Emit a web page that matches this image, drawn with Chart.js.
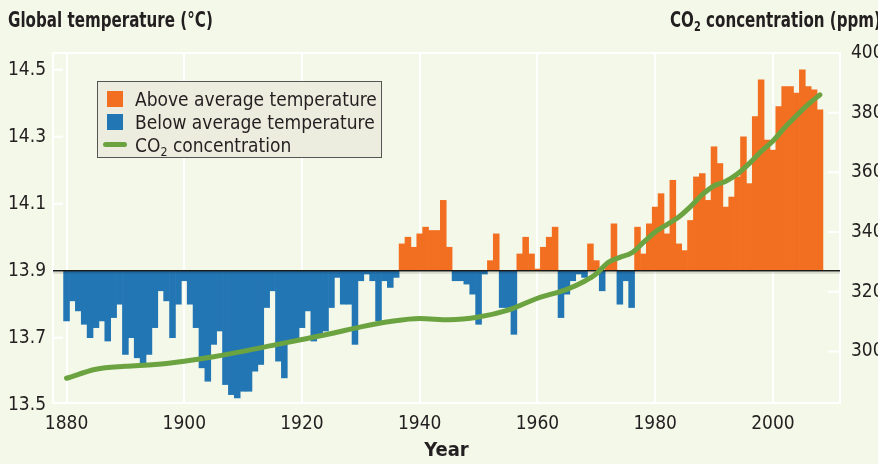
<!DOCTYPE html>
<html>
<head>
<meta charset="utf-8">
<script src="https://cdn.jsdelivr.net/npm/chart.js@4/dist/chart.umd.min.js"></script>
<style>
    body { margin: 0; background: #f4f8e8; }
    #wrap { position: relative; width: 878px; height: 464px; overflow: hidden; background: #f4f8e8;
            font-family: 'Liberation Sans Narrow', 'DejaVu Sans Condensed', sans-serif; color: #231f20; }
    #chart { position: absolute; left: 0; top: 0; }
    .axis-title { position: absolute; top: 10px; font-size: 21px; font-weight: bold; line-height: 1; white-space: nowrap;
                  transform: scaleX(0.8); transform-origin: 0 0; }
    sub { font-size: 0.65em; line-height: 0; vertical-align: -0.3em; }
    #legend { position: absolute; left: 97px; top: 81px; width: 285px; height: 77px; box-sizing: border-box;
              background: #ecedde; border: 1px solid #555; }
    .legend-item { position: absolute; left: 0; height: 16px; display: flex; align-items: center;
                   font-size: 19px; white-space: nowrap; }
    .legend-color { position: absolute; left: 9px; top: 0; width: 16px; height: 16px; }
    .legend-line { position: absolute; left: 5px; top: 5px; width: 24px; height: 5px; border-radius: 3px; }
    .legend-label { position: absolute; left: 37px; top: -2px; line-height: 20px; }
</style>
</head>
<body>
<div id="wrap">
    <canvas id="chart" width="878" height="464"></canvas>
    <div class="axis-title" style="left:8px">Global temperature (°C)</div>
    <div class="axis-title" style="left:670px">CO<sub>2</sub> concentration (ppm)</div>
    <div id="legend"></div>
</div>
<script>
// years 1880 - 2008
const years = [
    1880, 1881, 1882, 1883, 1884, 1885, 1886, 1887, 1888, 1889,
    1890, 1891, 1892, 1893, 1894, 1895, 1896, 1897, 1898, 1899,
    1900, 1901, 1902, 1903, 1904, 1905, 1906, 1907, 1908, 1909,
    1910, 1911, 1912, 1913, 1914, 1915, 1916, 1917, 1918, 1919,
    1920, 1921, 1922, 1923, 1924, 1925, 1926, 1927, 1928, 1929,
    1930, 1931, 1932, 1933, 1934, 1935, 1936, 1937, 1938, 1939,
    1940, 1941, 1942, 1943, 1944, 1945, 1946, 1947, 1948, 1949,
    1950, 1951, 1952, 1953, 1954, 1955, 1956, 1957, 1958, 1959,
    1960, 1961, 1962, 1963, 1964, 1965, 1966, 1967, 1968, 1969,
    1970, 1971, 1972, 1973, 1974, 1975, 1976, 1977, 1978, 1979,
    1980, 1981, 1982, 1983, 1984, 1985, 1986, 1987, 1988, 1989,
    1990, 1991, 1992, 1993, 1994, 1995, 1996, 1997, 1998, 1999,
    2000, 2001, 2002, 2003, 2004, 2005, 2006, 2007, 2008
];

// global temperature (°C), same order as years
const temps = [
    13.75, 13.81, 13.78, 13.74, 13.70, 13.73, 13.75, 13.69, 13.76, 13.80,
    13.65, 13.70, 13.64, 13.62, 13.65, 13.73, 13.84, 13.81, 13.70, 13.80,
    13.87, 13.80, 13.73, 13.61, 13.57, 13.68, 13.72, 13.56, 13.53, 13.52,
    13.54, 13.54, 13.60, 13.62, 13.79, 13.84, 13.63, 13.58, 13.69, 13.69,
    13.73, 13.78, 13.69, 13.71, 13.72, 13.79, 13.88, 13.80, 13.80, 13.68,
    13.87, 13.89, 13.87, 13.75, 13.87, 13.85, 13.88, 13.98, 14.00, 13.97,
    14.01, 14.03, 14.02, 14.02, 14.11, 13.97, 13.87, 13.87, 13.86, 13.83,
    13.74, 13.89, 13.93, 14.01, 13.79, 13.79, 13.71, 13.95, 14.00, 13.95,
    13.905, 13.97, 14.00, 14.03, 13.76, 13.83, 13.87, 13.89, 13.88, 13.98,
    13.93, 13.84, 13.92, 14.04, 13.80, 13.87, 13.79, 14.03, 13.95, 14.04,
    14.09, 14.13, 14.01, 14.17, 13.98, 13.96, 14.05, 14.18, 14.19, 14.11,
    14.27, 14.22, 14.09, 14.12, 14.18, 14.30, 14.16, 14.36, 14.47, 14.29,
    14.26, 14.39, 14.45, 14.45, 14.43, 14.50, 14.45, 14.44, 14.38
];

// CO2 concentration (ppm)
const co2Years = [
    1880, 1885, 1890, 1895, 1900, 1905, 1910, 1915, 1920, 1925,
    1930, 1935, 1940, 1945, 1950, 1955, 1960, 1965, 1968, 1970,
    1972, 1974, 1976, 1978, 1980, 1982, 1984, 1986, 1988, 1990,
    1992, 1994, 1996, 1998, 2000, 2002, 2004, 2006, 2008
];
const co2Values = [
    291.0, 294.0, 295.0, 295.6, 296.7, 298.2, 300.0, 302.0, 304.0, 306.0,
    308.2, 310.0, 311.0, 310.6, 311.5, 313.8, 317.8, 320.8, 323.5, 326.0,
    329.8, 331.5, 333.0, 336.5, 340.0, 342.5, 345.0, 348.5, 352.5, 355.5,
    357.0, 359.5, 363.0, 367.0, 370.5, 375.0, 379.0, 382.8, 386.0
];

const baseline = 13.9;
const yearTicks = [1880, 1900, 1920, 1940, 1960, 1980, 2000];
const tempTicks = [13.5, 13.7, 13.9, 14.1, 14.3, 14.5];
const co2Ticks = [300, 320, 340, 360, 380, 400];

const colors = {
    above: '#f26f21',
    below: '#2376b4',
    co2: '#6ca341',
    text: '#231f20'
};

const legendItems = [
    { html: 'Above average temperature', color: colors.above, type: 'box' },
    { html: 'Below average temperature', color: colors.below, type: 'box' },
    { html: 'CO<sub>2</sub> concentration', color: colors.co2, type: 'line' }
];

// legend banao
const legend = document.getElementById('legend');
legendItems.forEach((item, i) => {
    const row = document.createElement('div');
    row.className = 'legend-item';
    row.style.top = (9 + i * 23) + 'px';
    row.innerHTML = `
        <span class="${item.type === 'box' ? 'legend-color' : 'legend-line'}" style="background-color: ${item.color}"></span>
        <span class="legend-label">${item.html}</span>
    `;
    legend.appendChild(row);
});

// white frame, inner ticks, aur 13.9 wali black line
const framePlugin = {
    id: 'frame',
    beforeDatasetsDraw(chart) {
        const { ctx, chartArea: a, scales } = chart;
        ctx.save();
        ctx.strokeStyle = '#ffffff';
        ctx.lineWidth = 2;
        ctx.strokeRect(a.left, a.top, a.right - a.left, a.bottom - a.top);
        ctx.beginPath();
        tempTicks.forEach(v => {
            const py = scales.y.getPixelForValue(v);
            if (py > a.top + 2 && py < a.bottom - 2) {
                ctx.moveTo(a.left, py);
                ctx.lineTo(a.left + 10, py);
            }
        });
        co2Ticks.forEach(v => {
            const py = scales.y2.getPixelForValue(v);
            if (py > a.top + 2 && py < a.bottom - 2) {
                ctx.moveTo(a.right - 12, py);
                ctx.lineTo(a.right, py);
            }
        });
        ctx.stroke();
        ctx.restore();
    },
    afterDatasetDraw(chart, args) {
        if (args.index !== 0) return;
        const { ctx, chartArea: a } = chart;
        const py = chart.scales.y.getPixelForValue(baseline);
        ctx.save();
        ctx.strokeStyle = 'rgba(0,0,0,0.12)';
        ctx.lineWidth = 2;
        ctx.beginPath();
        ctx.moveTo(a.left, py + 2);
        ctx.lineTo(a.right, py + 2);
        ctx.stroke();
        ctx.strokeStyle = '#1a1a1a';
        ctx.lineWidth = 1.5;
        ctx.beginPath();
        ctx.moveTo(a.left, py);
        ctx.lineTo(a.right, py);
        ctx.stroke();
        ctx.restore();
    }
};

Chart.defaults.font.family = "'Liberation Sans Narrow', 'DejaVu Sans Condensed', sans-serif";
Chart.defaults.color = colors.text;

new Chart(document.getElementById('chart'), {
    type: 'bar',
    data: {
        datasets: [
            {
                type: 'bar',
                label: 'Temperature',
                yAxisID: 'y',
                data: years.map((yr, i) => ({ x: yr, y: [baseline, temps[i]] })),
                backgroundColor: temps.map(t => t >= baseline ? colors.above : colors.below),
                borderWidth: 0,
                barPercentage: 1,
                categoryPercentage: 1,
                order: 2
            },
            {
                type: 'line',
                label: 'CO2 concentration',
                yAxisID: 'y2',
                data: co2Years.map((yr, i) => ({ x: yr, y: co2Values[i] })),
                borderColor: colors.co2,
                borderWidth: 5,
                borderCapStyle: 'round',
                pointRadius: 0,
                tension: 0.4,
                cubicInterpolationMode: 'monotone',
                order: 1
            }
        ]
    },
    options: {
        responsive: false,
        animation: false,
        layout: { padding: { left: 8, top: 53, right: 0, bottom: 0 } },
        plugins: {
            legend: { display: false },
            tooltip: { enabled: false }
        },
        scales: {
            x: {
                type: 'linear',
                min: 1877.7,
                max: 2011.4,
                offset: false,
                afterBuildTicks: s => { s.ticks = yearTicks.map(v => ({ value: v })); },
                afterFit: s => { s.height = 61; },
                grid: { color: '#ffffff', lineWidth: 2, drawTicks: false, offset: false },
                border: { display: false },
                ticks: { padding: 10, font: { size: 19 }, color: colors.text, callback: v => String(v) },
                title: {
                    display: true, text: 'Year', color: colors.text,
                    font: { size: 20, weight: 'bold' }, padding: { top: 0, bottom: 1 }
                }
            },
            y: {
                position: 'left',
                min: 13.505,
                max: 14.55,
                afterBuildTicks: s => { s.ticks = tempTicks.map(v => ({ value: v })); },
                afterFit: s => { s.width = 45; },
                grid: { display: false, drawTicks: false },
                border: { display: false },
                ticks: { crossAlign: 'far', padding: 0, font: { size: 19 }, color: colors.text, callback: v => v.toFixed(1) }
            },
            y2: {
                position: 'right',
                min: 282.7,
                max: 400,
                afterBuildTicks: s => { s.ticks = co2Ticks.map(v => ({ value: v })); },
                afterFit: s => { s.width = 38; },
                grid: { display: false, drawTicks: false },
                border: { display: false },
                ticks: { padding: 11, font: { size: 19 }, color: colors.text, callback: v => String(v) }
            }
        }
    },
    plugins: [framePlugin]
});
</script>
</body>
</html>
